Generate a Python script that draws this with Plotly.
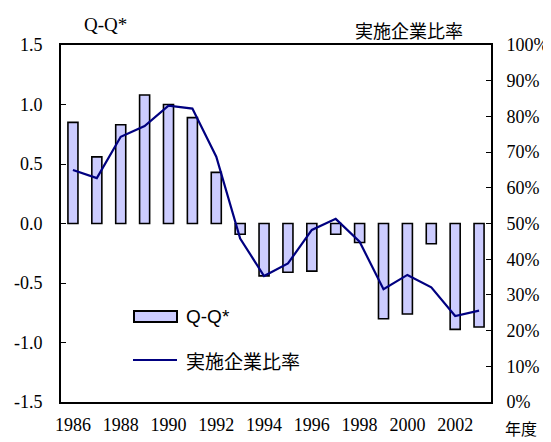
import plotly.graph_objects as go

years = list(range(1986, 2004))
qq = [0.85, 0.56, 0.83, 1.08, 1.00, 0.89, 0.43, -0.09, -0.44, -0.41,
      -0.40, -0.09, -0.16, -0.80, -0.76, -0.17, -0.89, -0.87]
ratio = [0.650, 0.627, 0.743, 0.773, 0.830, 0.822, 0.687, 0.458, 0.353, 0.388,
         0.482, 0.513, 0.449, 0.316, 0.356, 0.321, 0.241, 0.256]

left_vals = [-1.5, -1.0, -0.5, 0.0, 0.5, 1.0, 1.5]
left_text = ["-1.5", "-1.0", "-0.5", "0.0", "0.5", "1.0", "1.5"]
right_vals = [i / 10 for i in range(11)]
right_text = [f"{i*10}%" for i in range(11)]
x_ticks = list(range(1986, 2003, 2))

serif = "Liberation Serif, DejaVu Serif, serif"
jp = "Noto Sans CJK JP"
sans = "Liberation Sans, Arial, sans-serif"

# page body has an 8px margin; plot area in window pixels: x 61..491, y 45..402
OFF = 8
W, H = 551 - OFF, 442 - OFF
L, T = 61 - OFF, 45 - OFF
R, B = 60, 40
pw, ph = W - L - R, H - T - B


def px(x):  # window pixel x -> paper
    return (x - 61) / pw


def py(y):  # window pixel y -> paper
    return (402 - y) / ph


fig = go.Figure()
fig.add_trace(go.Bar(
    x=years, y=qq, name="Q-Q*", width=0.42,
    marker=dict(color="#CCCCFF", line=dict(color="black", width=1.6)),
    xaxis="x", yaxis="y",
))
fig.add_trace(go.Scatter(
    x=years, y=ratio, name="実施企業比率", mode="lines",
    line=dict(color="#000080", width=2.2),
    xaxis="x", yaxis="y2",
))

tf = dict(family=serif, size=18, color="black")


def ann(text, x, y, fam, size, xa="center"):
    return dict(text=text, x=px(x), y=py(y), xref="paper", yref="paper",
                xanchor=xa, yanchor="middle", showarrow=False,
                font=dict(family=fam, size=size, color="black"))


fig.update_layout(
    width=W, height=H,
    margin=dict(l=L, r=R, t=T, b=B),
    paper_bgcolor="white", plot_bgcolor="white",
    showlegend=False,
    xaxis=dict(range=[1985.5, 2003.5], tickvals=x_ticks, ticks="", showgrid=False,
               showline=True, linecolor="black", linewidth=2, mirror=True,
               tickfont=tf, zeroline=False, automargin=False, ticklabelstandoff=5),
    xaxis2=dict(overlaying="x", matches="x", anchor="free", position=0.5, side="bottom",
                showline=True, linecolor="black", linewidth=1.5,
                tickvals=[y + 0.5 for y in years[:-1]], ticks="inside", ticklen=5,
                tickcolor="black", showticklabels=False, showgrid=False, zeroline=False,
                automargin=False),
    yaxis=dict(range=[-1.5, 1.5], tickvals=left_vals, ticktext=left_text,
               ticks="inside", ticklen=5, tickcolor="black", showgrid=False, zeroline=False,
               showline=True, linecolor="black", linewidth=2, tickfont=tf, automargin=False,
               ticklabelstandoff=13),
    yaxis2=dict(range=[0, 1], tickvals=right_vals, ticktext=right_text, overlaying="y",
                side="right", ticks="inside", ticklen=5, tickcolor="black", showgrid=False,
                zeroline=False, showline=True, linecolor="black", linewidth=2,
                tickfont=tf, automargin=False, ticklabelstandoff=10),
    annotations=[
        ann("Q-Q*", 105, 24.5, serif, 19),
        ann("実施企業比率", 409, 30, jp, 18),
        ann("年度", 521, 428, jp, 16),
        ann("Q-Q*", 184, 316.5, sans, 19, xa="left"),
        ann("実施企業比率", 184, 360, jp, 19, xa="left"),
    ],
    shapes=[
        dict(type="rect", xref="paper", yref="paper", x0=px(134), x1=px(177),
             y0=py(311), y1=py(322), fillcolor="#CCCCFF", line=dict(color="black", width=2)),
        dict(type="line", xref="paper", yref="paper", x0=px(133), x1=px(177),
             y0=py(360), y1=py(360), line=dict(color="#000080", width=2.2)),
    ],
)

fig.write_html("out.html")
